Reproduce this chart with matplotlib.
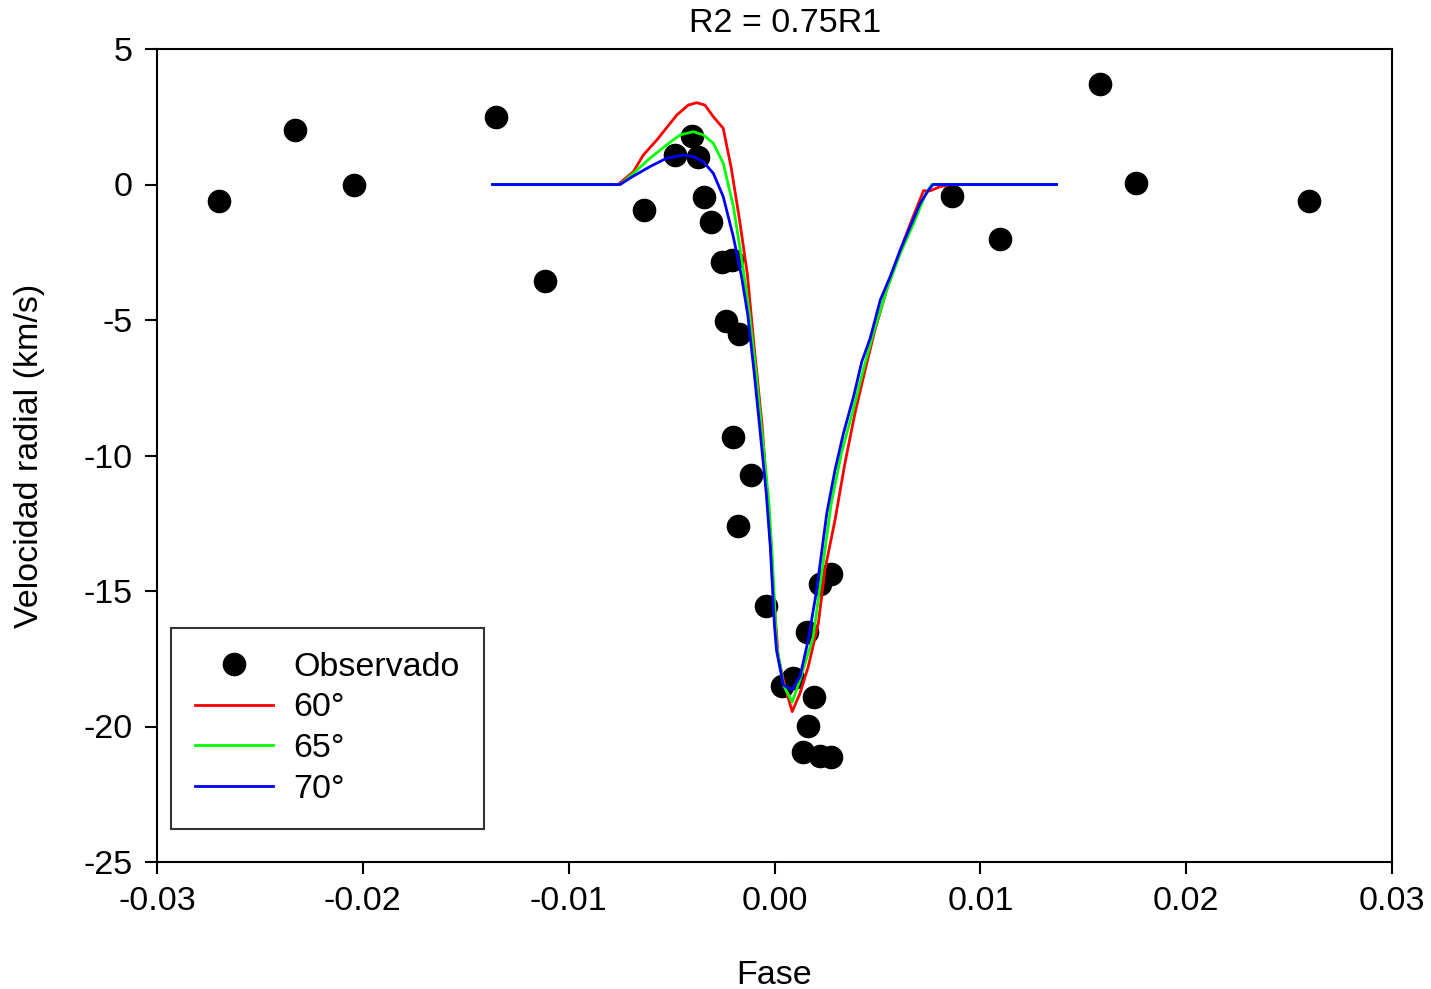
import matplotlib
matplotlib.use("Agg")
import matplotlib.pyplot as plt

plt.rcParams['font.family'] = ['Liberation Sans', 'DejaVu Sans']
plt.rcParams['axes.unicode_minus'] = False

title = "R2 = 0.75R1"
xlabel = "Fase"
ylabel = "Velocidad radial (km/s)"
xticks = [-0.03, -0.02, -0.01, 0.00, 0.01, 0.02, 0.03]
yticks = [-25, -20, -15, -10, -5, 0, 5]

obs_x = [-0.02699, -0.02330, -0.02043, -0.01353, -0.01115, -0.00634, -0.00484,
         -0.00402, -0.00370, -0.00343, -0.00309, -0.00257, -0.00208, -0.00236,
         -0.00171, -0.00203, -0.00116, -0.00176, -0.00041, 0.00035, 0.00088,
         0.00140, 0.00159, 0.00165, 0.00192, 0.00221, 0.00221, 0.00273, 0.00273,
         0.00862, 0.01095, 0.01581, 0.01756, 0.02597]
obs_y = [-0.61, 2.01, -0.02, 2.49, -3.56, -0.94, 1.09,
         1.80, 1.03, -0.45, -1.37, -2.85, -2.79, -5.04,
         -5.53, -9.31, -10.72, -12.6, -15.55, -18.51, -18.22,
         -20.93, -16.5, -19.97, -18.92, -14.75, -21.09, -14.38, -21.11,
         -0.42, -2.01, 3.71, 0.06, -0.61]

x60 = [-0.0137, -0.0076, -0.00686, -0.00637, -0.00572, -0.00475, -0.00419, -0.00378,
       -0.00338, -0.00297, -0.00249, -0.00210, -0.00170, -0.00132, -0.0010, -0.0006,
       -0.0003, -0.0001, 0.00018, 0.00051, 0.00086, 0.00124, 0.00164, 0.00213,
       0.00245, 0.00294, 0.00342, 0.00391, 0.0044, 0.00488, 0.00545, 0.00611,
       0.00667, 0.00724, 0.00757, 0.00805, 0.00854, 0.0137]
y60 = [0, 0, 0.47, 1.09, 1.64, 2.56, 2.93, 3.02,
       2.93, 2.50, 2.07, 0.6, -1.3, -3.3, -5.9, -8.9,
       -12.0, -14.5, -17.43, -18.53, -19.45, -18.77, -17.79, -16.19,
       -14.22, -12.38, -10.29, -8.44, -6.85, -5.37, -3.89, -2.42,
       -1.31, -0.23, -0.23, -0.08, 0, 0]

x65 = [-0.0137, -0.0075, -0.00686, -0.00605, -0.00524, -0.00459, -0.00394, -0.00346,
       -0.00297, -0.00249, -0.0020, -0.00156, -0.00124, -0.00091, -0.00059, -0.00027,
       -0.0001, 0.0001, 0.00045, 0.00086, 0.00124, 0.00188, 0.00232, 0.00276,
       0.00325, 0.00382, 0.00431, 0.0048, 0.00545, 0.00611, 0.00676, 0.00732,
       0.00764, 0.0137]
y65 = [0, 0, 0.41, 0.97, 1.46, 1.83, 1.95, 1.83,
       1.52, 0.78, -0.8, -2.91, -4.63, -6.85, -9.31, -11.76,
       -13.86, -17.0, -18.5, -19.1, -18.28, -16.69, -14.22, -11.75,
       -9.92, -8.32, -6.85, -5.49, -3.89, -2.54, -1.43, -0.39,
       0, 0]

x70 = [-0.0137, -0.0075, -0.0069, -0.00605, -0.00524, -0.00443, -0.00394, -0.00346,
       -0.00297, -0.00249, -0.0020, -0.0016, -0.0013, -0.0010, -0.0007, -0.0004,
       -0.0002, 0.0000, 0.0001, 0.00043, 0.00085, 0.00124, 0.00164, 0.00205,
       0.00254, 0.00294, 0.00335, 0.00384, 0.00424, 0.00465, 0.00514, 0.00562,
       0.00611, 0.00659, 0.00708, 0.00749, 0.0077, 0.0137]
y70 = [0, 0, 0.29, 0.66, 0.97, 1.09, 1.03, 0.84,
       0.41, -0.45, -1.93, -3.4, -4.8, -6.85, -9.1, -11.4,
       -13.4, -16.3, -17.2, -18.47, -18.65, -18.16, -16.8, -14.96,
       -12.13, -10.53, -9.18, -7.83, -6.54, -5.67, -4.26, -3.4,
       -2.42, -1.56, -0.69, -0.2, 0, 0]

fs = 24.5
fig = plt.figure(figsize=(14.31, 9.89), dpi=100)
ax = fig.add_axes([157/1431, 1 - 862/989, (1392-157)/1431, (862-49)/989])

ax.plot(obs_x, obs_y, 'o', color='black', markersize=16, linestyle='none',
        label='Observado', zorder=2)
ax.plot(x60, y60, color='#ff0000', lw=2.0, label='60°', zorder=3)
ax.plot(x65, y65, color='#00ff00', lw=2.0, label='65°', zorder=3)
ax.plot(x70, y70, color='#0000ff', lw=2.0, label='70°', zorder=3)

ax.set_xlim(-0.03, 0.03)
ax.set_ylim(-25, 5)
ax.set_xticks(xticks)
ax.set_xticklabels([f"{v:.2f}" for v in xticks])
ax.set_yticks(yticks)
ax.set_yticklabels([str(v) for v in yticks])
ax.tick_params(axis='both', direction='out', length=8.5, width=1.5, labelsize=fs)
ax.tick_params(axis='x', pad=9)
ax.tick_params(axis='y', pad=9)
ax.tick_params(top=False, right=False)
for s in ax.spines.values():
    s.set_linewidth(1.5)

ax.set_title(title, fontsize=fs, pad=12, x=0.5085)
ax.set_xlabel(xlabel, fontsize=fs, labelpad=31)
ax.set_ylabel(ylabel, fontsize=fs, labelpad=28)

leg = ax.legend(loc='lower left', bbox_to_anchor=(0.0113, 0.0406), borderaxespad=0,
                fontsize=fs, frameon=True, fancybox=False, edgecolor='black',
                handlelength=2.3, handletextpad=0.6, labelspacing=0.29,
                borderpad=0.7, numpoints=1)
leg.get_frame().set_linewidth(1.5)

fig.savefig("out.png", dpi=100)
